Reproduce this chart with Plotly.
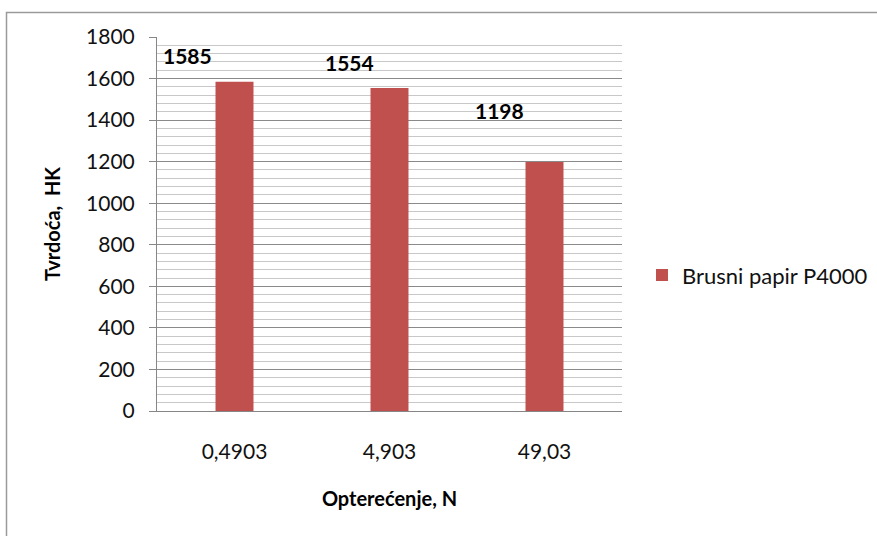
import plotly.graph_objects as go

# ---- data ----
categories = ["0,4903", "4,903", "49,03"]
hardness = [1585, 1554, 1198]
series_name = "Brusni papir P4000"
label_texts = ["1585", "1554", "1198"]

# ---- style ----
label_xshift = [-47, -40, -45]
label_yshift = [26, 26, 52]
FONT = "Lato"
BAR_COLOR = "#c0504d"

fig = go.Figure()
fig.add_trace(go.Bar(
    x=categories, y=hardness, name=series_name,
    marker=dict(color=BAR_COLOR, line=dict(width=0)),
    showlegend=True,
))

for cat, val, txt, dx, dy in zip(categories, hardness, label_texts, label_xshift, label_yshift):
    fig.add_annotation(x=cat, y=val, text=f"<b>{txt}</b>", showarrow=False,
                       xshift=dx, yshift=dy, xanchor="center", yanchor="middle",
                       font=dict(family=FONT, size=21, color="#000"))

fig.update_layout(
    width=877, height=536,
    margin=dict(l=157, r=255, t=37, b=125, autoexpand=False),
    paper_bgcolor="white", plot_bgcolor="white",
    font=dict(family=FONT, size=21, color="#111"),
    bargap=0.755,
    showlegend=True,
    legend=dict(x=1.043, y=0.363, xanchor="left", yanchor="middle",
                font=dict(family=FONT, size=22, color="#111"),
                bgcolor="rgba(0,0,0,0)"),
    xaxis=dict(
        type="category",
        showgrid=False,
        showline=True, linecolor="#868686", linewidth=1,
        ticks="", ticklabelstandoff=22,
        tickfont=dict(family=FONT, size=21, color="#111"),
        title=dict(text="<b>Opterećenje, N</b>", standoff=29,
                   font=dict(family=FONT, size=20, color="#000")),
    ),
    yaxis=dict(
        range=[0, 1800],
        tickmode="linear", tick0=0, dtick=200,
        showgrid=True, gridcolor="#8a8a8a", gridwidth=1,
        minor=dict(dtick=40, showgrid=True, gridcolor="#c8c8c8", gridwidth=1),
        showline=True, linecolor="#868686", linewidth=1,
        ticks="outside", ticklen=7, tickcolor="#868686",
        ticklabelstandoff=10,
        zeroline=False,
        tickfont=dict(family=FONT, size=21, color="#111"),
        title=dict(text="<b>Tvrdoća,  HK</b>", standoff=20,
                   font=dict(family=FONT, size=20, color="#000")),
    ),
)

# outer chart border (right and bottom edges fall outside the picture)
fig.add_shape(type="rect", xref="paper", yref="paper",
              x0=(6.5 - 157) / 465, x1=1.8, y0=-1.0, y1=(411 - 12.5) / 374,
              line=dict(color="#9a9a9a", width=1.5), fillcolor="rgba(0,0,0,0)",
              layer="below")

fig.write_html("out.html", config={"displayModeBar": False},
               post_script="document.body.style.margin='0';document.body.style.padding='0';")
